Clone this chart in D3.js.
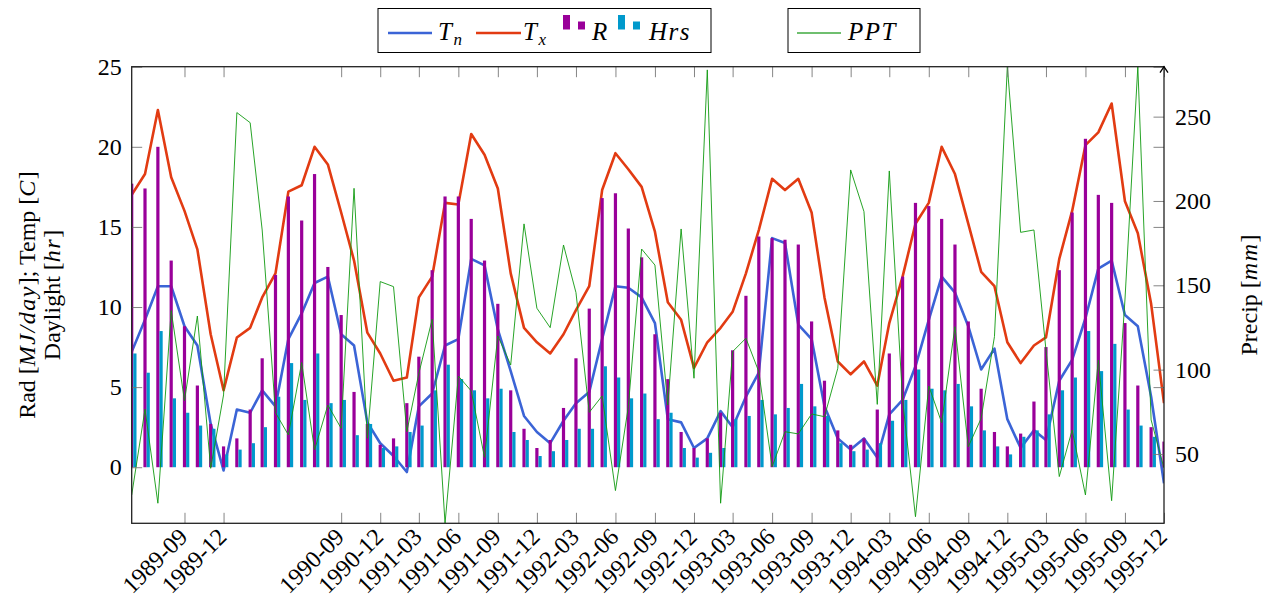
<!DOCTYPE html>
<html>
<head>
<meta charset="utf-8">
<script src="https://cdn.jsdelivr.net/npm/d3@7"></script>
<style>
  body { margin: 0; background: #fff; }
  svg, text { font-family: "Liberation Serif", serif; }
</style>
</head>
<body>
<div id="chart"></div>
<script>
// monthly climate record, 1989-05 .. 1995-12
var months = [
  "1989-05","1989-06","1989-07","1989-08","1989-09","1989-10","1989-11","1989-12",
  "1990-01","1990-02","1990-03","1990-04","1990-05","1990-06","1990-07","1990-08","1990-09","1990-10","1990-11","1990-12",
  "1991-01","1991-02","1991-03","1991-04","1991-05","1991-06","1991-07","1991-08","1991-09","1991-10","1991-11","1991-12",
  "1992-01","1992-02","1992-03","1992-04","1992-05","1992-06","1992-07","1992-08","1992-09","1992-10","1992-11","1992-12",
  "1993-01","1993-02","1993-03","1993-04","1993-05","1993-06","1993-07","1993-08","1993-09","1993-10","1993-11","1993-12",
  "1994-01","1994-02","1994-03","1994-04","1994-05","1994-06","1994-07","1994-08","1994-09","1994-10","1994-11","1994-12",
  "1995-01","1995-02","1995-03","1995-04","1995-05","1995-06","1995-07","1995-08","1995-09","1995-10","1995-11","1995-12"
];

// minimum temperature [C]
var tn = [7.2, 9.2, 11.3, 11.3, 8.8, 7.6, 2.7, -0.2,
  3.6, 3.4, 4.8, 3.8, 8.0, 9.6, 11.5, 11.9, 8.3, 7.6, 2.8, 1.5,
  0.7, -0.3, 3.8, 4.6, 7.6, 8.0, 13.0, 12.6, 8.6, 6.0, 3.2, 2.2,
  1.5, 2.9, 4.0, 4.7, 8.0, 11.3, 11.2, 10.6, 9.0, 3.0, 2.8, 1.2,
  1.8, 3.5, 2.5, 4.4, 5.9, 14.3, 14.0, 8.9, 8.0, 3.8, 1.8, 1.1,
  1.8, 0.6, 3.3, 4.2, 6.3, 9.2, 11.9, 10.9, 8.8, 6.1, 7.4, 3.0,
  1.2, 2.3, 1.7, 5.4, 6.7, 9.3, 12.4, 12.9, 9.5, 8.8, 4.4, -1.0];

// maximum temperature [C]
var tx = [17.0, 18.3, 22.3, 18.1, 16.0, 13.6, 8.3, 4.8,
  8.1, 8.7, 10.6, 12.1, 17.2, 17.6, 20.0, 18.9, 15.9, 12.9, 8.4, 7.1,
  5.4, 5.6, 10.6, 11.9, 16.5, 16.4, 20.8, 19.5, 17.4, 12.1, 8.7, 7.8,
  7.1, 8.3, 9.8, 11.3, 17.3, 19.6, 18.6, 17.5, 14.7, 10.3, 9.2, 6.2,
  7.8, 8.7, 9.7, 12.1, 14.8, 18.0, 17.3, 18.0, 15.9, 10.6, 6.6, 5.8,
  6.6, 5.1, 9.0, 11.9, 15.2, 16.5, 20.0, 18.3, 15.2, 12.2, 11.3, 7.8,
  6.5, 7.6, 8.1, 13.0, 16.0, 20.1, 20.9, 22.7, 16.6, 14.6, 10.2, 4.0];

// radiation [MJ/day]
var rad = [17.7, 17.4, 20.0, 12.9, 8.8, 5.1, 2.7, 1.3,
  1.8, 3.6, 6.8, 12.0, 16.9, 15.4, 18.3, 12.5, 9.5, 4.7, 2.7, 1.4,
  1.8, 4.0, 6.9, 12.3, 16.9, 16.9, 15.5, 12.9, 10.2, 4.8, 2.4, 1.2,
  1.7, 3.7, 6.8, 9.9, 16.8, 17.1, 14.9, 13.1, 8.3, 5.5, 2.2, 1.2,
  1.8, 3.4, 7.3, 10.7, 14.4, 14.3, 14.2, 13.9, 9.1, 5.4, 2.3, 1.4,
  1.8, 3.6, 7.1, 11.9, 16.5, 16.3, 15.5, 13.9, 9.1, 4.9, 2.2, 1.3,
  2.1, 4.1, 7.5, 12.3, 15.9, 20.5, 17.0, 16.5, 9.0, 5.1, 2.5, 1.6];

// daylight hours [hr]
var hrs = [7.1, 5.9, 8.5, 4.3, 3.4, 2.6, 2.4, 0.8,
  1.1, 1.5, 2.5, 4.4, 6.5, 4.2, 7.1, 4.0, 4.2, 2.0, 2.7, 1.2,
  1.3, 2.2, 2.6, 4.8, 6.4, 5.5, 4.8, 4.3, 4.9, 2.2, 1.7, 0.7,
  1.0, 1.7, 2.4, 2.4, 6.3, 5.6, 4.3, 4.6, 3.0, 3.4, 1.2, 0.6,
  0.9, 1.2, 3.0, 3.2, 4.2, 3.3, 3.7, 5.2, 3.8, 3.2, 1.5, 1.0,
  1.1, 1.5, 2.9, 4.2, 6.1, 4.9, 4.8, 5.2, 3.8, 2.3, 1.3, 0.8,
  1.9, 2.3, 3.3, 4.8, 5.6, 8.5, 6.0, 7.7, 3.6, 2.6, 1.9, 1.5];

// precipitation [mm]
var ppt = [25.7, 76.5, 20.8, 135, 81.6, 131.8, 41.5, 85,
  252.4, 246.4, 182.8, 74.5, 61.3, 104.2, 52.4, 79, 65.2, 207.5, 59.3, 152.2,
  149.2, 63.2, 97.8, 129.8, 8.9, 96.2, 87.4, 48.0, 120, 102.8, 186.4, 136.4,
  124.9, 173.9, 145.7, 74.7, 84.4, 28.3, 78, 171.5, 162, 79, 183.4, 94.9,
  277.7, 20.8, 110.7, 118.6, 98.8, 42.5, 63.2, 61.9, 73.7, 72.1, 100.8, 218.4,
  193.7, 79.4, 217.8, 82, 12.8, 90.3, 68.6, 125.5, 54.3, 71.1, 119.6, 279.6,
  181.4, 182.8, 111.7, 36.6, 64.2, 25.7, 105.7, 22.3, 141.3, 279.6, 70.2, 41.5];

var xTickLabels = ["1989-09","1989-12","1990-09","1990-12","1991-03","1991-06","1991-09","1991-12",
  "1992-03","1992-06","1992-09","1992-12","1993-03","1993-06","1993-09","1993-12",
  "1994-03","1994-06","1994-09","1994-12","1995-03","1995-06","1995-09","1995-12"];
var leftTicks = [0, 5, 10, 15, 20, 25];
var rightTicks = [50, 100, 150, 200, 250];

// ***********************************************
// layout
// ***********************************************
var svgWidth = 1281, svgHeight = 601;
var plot = { left: 131.7, right: 1164, top: 66.7, bottom: 523.3 };
var tickLen = 10.5;
var serif = "'Liberation Serif', serif";

var colors = {
  tn: "#3b64d6",
  tx: "#e23b12",
  rad: "#990099",
  hrs: "#0099cc",
  ppt: "#109a10"
};

var parseMonth = d3.timeParse("%Y-%m");
var data = months.map(function(m, i) {
  return { date: parseMonth(m), tn: tn[i], tx: tx[i], rad: rad[i], hrs: hrs[i], ppt: ppt[i] };
});

var svg = d3.select("#chart")
  .append("svg")
  .attr("width", svgWidth)
  .attr("height", svgHeight)
  .attr("font-family", serif);

// scales
var xScale = d3.scaleTime()
  .domain(d3.extent(data, d => d.date))
  .range([plot.left, plot.right]);
var yLeft = d3.scaleLinear()
  .domain([-3.5, 25])
  .range([plot.bottom, plot.top]);
var yRight = d3.scaleLinear()
  .domain(d3.extent(ppt))
  .range([plot.bottom, plot.top]);

svg.append("clipPath").attr("id", "plotClip")
  .append("rect")
  .attr("x", plot.left).attr("y", plot.top)
  .attr("width", plot.right - plot.left)
  .attr("height", plot.bottom - plot.top);

var marks = svg.append("g").attr("clip-path", "url(#plotClip)");

// lines Tn, Tx
var line = function(key, scale) {
  return d3.line().x(d => xScale(d.date)).y(d => scale(d[key]));
};
marks.append("path").datum(data)
  .attr("d", line("tn", yLeft))
  .attr("fill", "none").attr("stroke", colors.tn).attr("stroke-width", 2.6)
  .attr("stroke-linejoin", "round");
marks.append("path").datum(data)
  .attr("d", line("tx", yLeft))
  .attr("fill", "none").attr("stroke", colors.tx).attr("stroke-width", 2.6)
  .attr("stroke-linejoin", "round");

// bars R, Hrs
var barW = 3.2;
marks.selectAll("rect.rad").data(data).enter()
  .append("rect").attr("class", "rad")
  .attr("x", d => xScale(d.date) - barW / 2)
  .attr("y", d => yLeft(d.rad))
  .attr("width", barW)
  .attr("height", d => yLeft(0) - yLeft(d.rad))
  .attr("fill", colors.rad);
marks.selectAll("rect.hrs").data(data).enter()
  .append("rect").attr("class", "hrs")
  .attr("x", d => xScale(d.date) + barW / 2)
  .attr("y", d => yLeft(d.hrs))
  .attr("width", barW)
  .attr("height", d => yLeft(0) - yLeft(d.hrs))
  .attr("fill", colors.hrs);

// PPT on the second axis
marks.append("path").datum(data)
  .attr("d", line("ppt", yRight))
  .attr("fill", "none").attr("stroke", colors.ppt).attr("stroke-width", 0.9);

// ***********************************************
// axes
// ***********************************************
var tickColor = "#777";
var xTickDates = xTickLabels.map(parseMonth);

// bottom axis, ticks pointing inward
var bottomAxis = d3.axisBottom(xScale)
  .tickValues(xTickDates).tickSizeInner(-tickLen).tickSizeOuter(0).tickFormat("");
var gBottom = svg.append("g")
  .attr("transform", `translate(0, ${plot.bottom})`)
  .call(bottomAxis);
var topAxis = d3.axisTop(xScale)
  .tickValues(xTickDates).tickSizeInner(-tickLen).tickSizeOuter(0).tickFormat("");
var gTop = svg.append("g")
  .attr("transform", `translate(0, ${plot.top})`)
  .call(topAxis);

var leftAxis = d3.axisLeft(yLeft)
  .tickValues(leftTicks).tickSizeInner(-tickLen).tickSizeOuter(0).tickPadding(10);
var gLeft = svg.append("g")
  .attr("transform", `translate(${plot.left}, 0)`)
  .call(leftAxis);
// mirrored left ticks on the right side of the box
var mirrorAxis = d3.axisRight(yLeft)
  .tickValues(leftTicks.filter(v => v > 0)).tickSizeInner(-tickLen).tickSizeOuter(0).tickFormat("");
var gMirror = svg.append("g")
  .attr("transform", `translate(${plot.right}, 0)`)
  .call(mirrorAxis);

var rightAxis = d3.axisRight(yRight)
  .tickValues(rightTicks).tickSizeInner(-tickLen).tickSizeOuter(0).tickPadding(11);
var gRight = svg.append("g")
  .attr("transform", `translate(${plot.right}, 0)`)
  .call(rightAxis);

[gBottom, gTop, gLeft, gMirror, gRight].forEach(function(g) {
  g.attr("font-family", serif).attr("font-size", 24);
  g.select(".domain").remove();
  g.selectAll(".tick line").attr("stroke", tickColor).attr("stroke-width", 0.9);
  g.selectAll(".tick text")
    .attr("fill", "#000")
    .style("font-family", serif)
    .style("font-size", "24px");
});

// rotated date labels
gBottom.selectAll(".tick").append("text")
  .attr("fill", "#000")
  .attr("text-anchor", "end")
  .attr("transform", "translate(-2, 9) rotate(-45)")
  .attr("dy", "0.35em")
  .style("font-family", serif)
  .style("font-size", "24px")
  .text((d, i) => xTickLabels[i]);

// box
svg.append("rect")
  .attr("x", plot.left).attr("y", plot.top)
  .attr("width", plot.right - plot.left)
  .attr("height", plot.bottom - plot.top)
  .attr("fill", "none").attr("stroke", "#222").attr("stroke-width", 1.3);
// arrow on the right axis
svg.append("path")
  .attr("d", `M${plot.right - 4},${plot.top + 6} L${plot.right},${plot.top} L${plot.right + 4},${plot.top + 6}`)
  .attr("fill", "none").attr("stroke", "#000").attr("stroke-width", 1.3);

// axis titles
function mathLabel(sel, parts) {
  parts.forEach(function(p) {
    sel.append("tspan").text(p[0])
      .style("font-style", p[1] ? "italic" : "normal")
      .style("letter-spacing", p[1] ? "1.5px" : "0px");
  });
}
var leftTitle = svg.append("g")
  .attr("transform", `translate(35, ${(plot.top + plot.bottom) / 2}) rotate(-90)`);
mathLabel(leftTitle.append("text").attr("text-anchor", "middle").attr("y", 0).style("font-size", "24px"),
  [["Rad [", false], ["MJ/day", true], ["]; Temp [", false], ["C", true], ["]", false]]);
mathLabel(leftTitle.append("text").attr("text-anchor", "middle").attr("y", 25).style("font-size", "24px"),
  [["Daylight [", false], ["hr", true], ["]", false]]);

var rightTitle = svg.append("g")
  .attr("transform", `translate(1257, ${(plot.top + plot.bottom) / 2}) rotate(-90)`);
mathLabel(rightTitle.append("text").attr("text-anchor", "middle").style("font-size", "24px"),
  [["Precip [", false], ["mm", true], ["]", false]]);

// ***********************************************
// legends
// ***********************************************
var legend = svg.append("g").style("font-size", "25px").style("font-style", "italic")
  .style("letter-spacing", "1.5px");
legend.append("rect").attr("x", 378).attr("y", 8.5).attr("width", 333).attr("height", 44)
  .attr("fill", "#fff").attr("stroke", "#000").attr("stroke-width", 1);
legend.append("rect").attr("x", 788).attr("y", 8.5).attr("width", 132).attr("height", 44)
  .attr("fill", "#fff").attr("stroke", "#000").attr("stroke-width", 1);

var legY = 33;
function legLine(x1, x2, color, w) {
  legend.append("line").attr("x1", x1).attr("x2", x2).attr("y1", legY).attr("y2", legY)
    .attr("stroke", color).attr("stroke-width", w);
}
function legSub(x, main, sub) {
  var t = legend.append("text").attr("x", x).attr("y", legY + 7);
  t.append("tspan").text(main);
  if (sub) t.append("tspan").attr("dy", 5).style("font-size", "17px").text(sub);
}
function legBars(x, color) {
  legend.append("rect").attr("x", x).attr("y", 15).attr("width", 7).attr("height", 14.5).attr("fill", color);
  legend.append("rect").attr("x", x + 15).attr("y", 21.5).attr("width", 7).attr("height", 8).attr("fill", color);
}
legLine(388, 432, colors.tn, 2.6);
legSub(438, "T", "n");
legLine(476, 521, colors.tx, 2.6);
legSub(523, "T", "x");
legBars(563, colors.rad);
legSub(592, "R");
legBars(618, colors.hrs);
legSub(649, "Hrs");
legLine(797, 841, "#6fbf6f", 2);
legSub(848, "PPT");
</script>
</body>
</html>
